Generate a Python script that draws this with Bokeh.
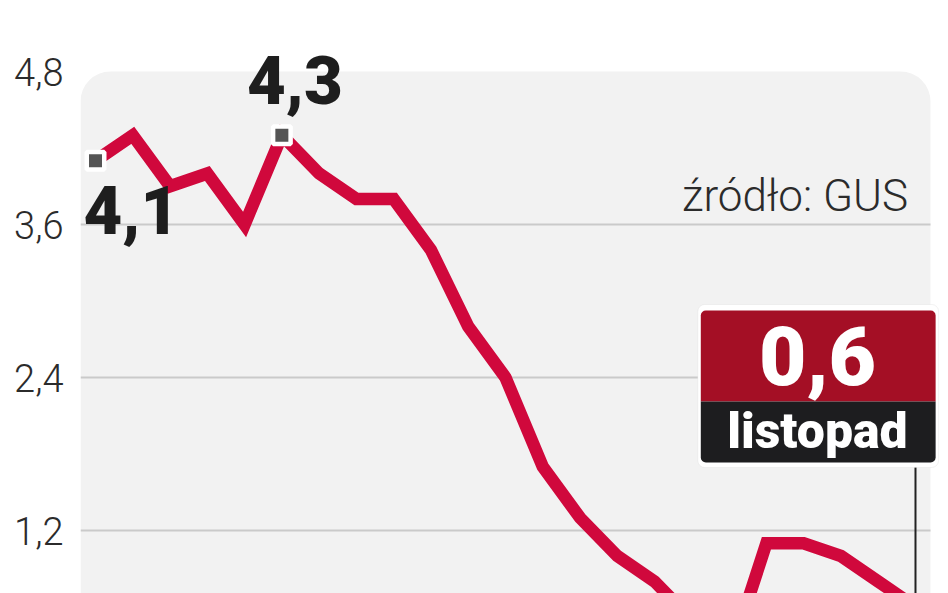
from bokeh.plotting import figure
from bokeh.models import Range1d, FixedTicker, CustomJSTickFormatter, BoxAnnotation
from bokeh.core.properties import value
from bokeh.embed import file_html
from bokeh.resources import INLINE

# ---- data (CPI y/y, %, Jan 2012 - Nov 2013) ----
months = ["sty 12", "lut 12", "mar 12", "kwi 12", "maj 12", "cze 12", "lip 12", "sie 12",
          "wrz 12", "paź 12", "lis 12", "gru 12", "sty 13", "lut 13", "mar 13", "kwi 13",
          "maj 13", "cze 13", "lip 13", "sie 13", "wrz 13", "paź 13", "lis 13"]
cpi = [4.1, 4.3, 3.9, 4.0, 3.6, 4.3, 4.0, 3.8, 3.8, 3.4, 2.8, 2.4,
       1.7, 1.3, 1.0, 0.8, 0.5, 0.2, 1.1, 1.1, 1.0, 0.8, 0.6]
y_ticks = [1.2, 2.4, 3.6, 4.8]
grid_ticks = [1.2, 2.4, 3.6]
marked_idx = [0, 5]
source_note = "źródło: GUS"
last_month_label = "listopad"

def fmt(v):
    return f"{v:.1f}".replace(".", ",")

xs = list(range(len(cpi)))

LINE = "#d0083c"
BOXRED = "#a40f25"
DARK = "#1d1d1f"
PANEL = "#f2f2f2"
BOLD_FONT = "'Roboto Black', Roboto, sans-serif"
LIGHT_FONT = "'Roboto Light', Roboto, sans-serif"

X0, X1 = -0.4025, 22.671
PANEL_RIGHT = 22.4025

p = figure(width=948, height=593, output_backend="svg", toolbar_location=None,
           x_axis_location=None,
           x_range=Range1d(X0, X1), y_range=Range1d(0.7059, 5.3569),
           min_border_left=80, min_border_right=8, min_border_top=0, min_border_bottom=0)
p.outline_line_color = None
p.background_fill_color = "white"
p.border_fill_color = "white"

# panel with rounded top corners
panel = BoxAnnotation(top=y_ticks[-1], right=PANEL_RIGHT, fill_color=PANEL, fill_alpha=1.0,
                      line_color=None, border_radius=(30, 30, 0, 0), level="image")
p.add_layout(panel)

# y axis
ax = p.yaxis[0]
ax.ticker = FixedTicker(ticks=y_ticks)
ax.formatter = CustomJSTickFormatter(code="return tick.toFixed(1).replace('.', ',');")
ax.axis_line_color = None
ax.major_tick_line_color = None
ax.minor_tick_line_color = None
ax.major_tick_out = 0
ax.major_tick_in = 0
ax.major_label_standoff = 17
ax.major_label_text_font = LIGHT_FONT
ax.major_label_text_font_size = "38px"
ax.major_label_text_color = "#2b2b2b"

# grid lines limited to the panel width
p.xgrid.visible = False
p.ygrid.visible = False
p.segment(x0=[X0] * len(grid_ticks), y0=grid_ticks, x1=[PANEL_RIGHT] * len(grid_ticks),
          y1=grid_ticks, line_color="#cacaca", line_width=2)

# main line
p.line(xs, cpi, line_color=LINE, line_width=12.5, line_join="miter")

# highlighted points
p.scatter([xs[i] for i in marked_idx], [cpi[i] for i in marked_idx], marker="square",
          size=17.5, fill_color="#555555", line_color="white", line_width=4.5)

i0, i1 = marked_idx
p.text([xs[i0]], [cpi[i0]], text=[fmt(cpi[i0])], text_font=value(BOLD_FONT),
       text_font_style="bold", text_font_size="67px", text_color="#1e1e1e",
       text_align="left", text_baseline="middle", x_offset=-12, y_offset=49)
p.text([xs[i1]], [cpi[i1]], text=[fmt(cpi[i1])], text_font=value(BOLD_FONT),
       text_font_style="bold", text_font_size="67px", text_color="#1e1e1e",
       text_align="center", text_baseline="middle", x_offset=13, y_offset=-55)

# source note
p.text([21.8], [3.8235], text=[source_note], text_align="right", text_baseline="middle",
       text_font=value(LIGHT_FONT), text_font_size="44px", text_color="#2b2b2b")

# callout for last value
xl, yl = xs[-1], cpi[-1]
box_top, box_mid, box_bot = 2.925, 2.212, 1.733
p.segment([xl], [box_bot], [xl], [yl], line_color="#222222", line_width=2)
p.add_layout(BoxAnnotation(left=16.16, right=22.62, top=2.973, bottom=1.694,
                           fill_color="white", fill_alpha=1.0, line_color="#d4d4d4",
                           line_width=1, border_radius=7, level="annotation"))
p.add_layout(BoxAnnotation(left=16.24, right=22.54, top=box_top, bottom=box_mid,
                           fill_color=BOXRED, fill_alpha=1.0, line_color=None,
                           border_radius=(5, 5, 0, 0), level="annotation"))
p.add_layout(BoxAnnotation(left=16.24, right=22.54, top=box_mid, bottom=box_bot,
                           fill_color=DARK, fill_alpha=1.0, line_color=None,
                           border_radius=(0, 0, 5, 5), level="annotation"))
# callout texts drawn above boxes
t1 = p.text([19.37], [2.575], text=[fmt(yl)], text_align="center", text_baseline="middle",
            text_font=value(BOLD_FONT), text_font_style="bold", text_font_size="82px",
            text_color="white")
t2 = p.text([19.37], [1.984], text=[last_month_label], text_align="center",
            text_baseline="middle", text_font=value(BOLD_FONT), text_font_style="bold",
            text_font_size="50px", text_color="white")
t1.level = "overlay"
t2.level = "overlay"

open("out.html", "w").write(file_html(p, INLINE))
